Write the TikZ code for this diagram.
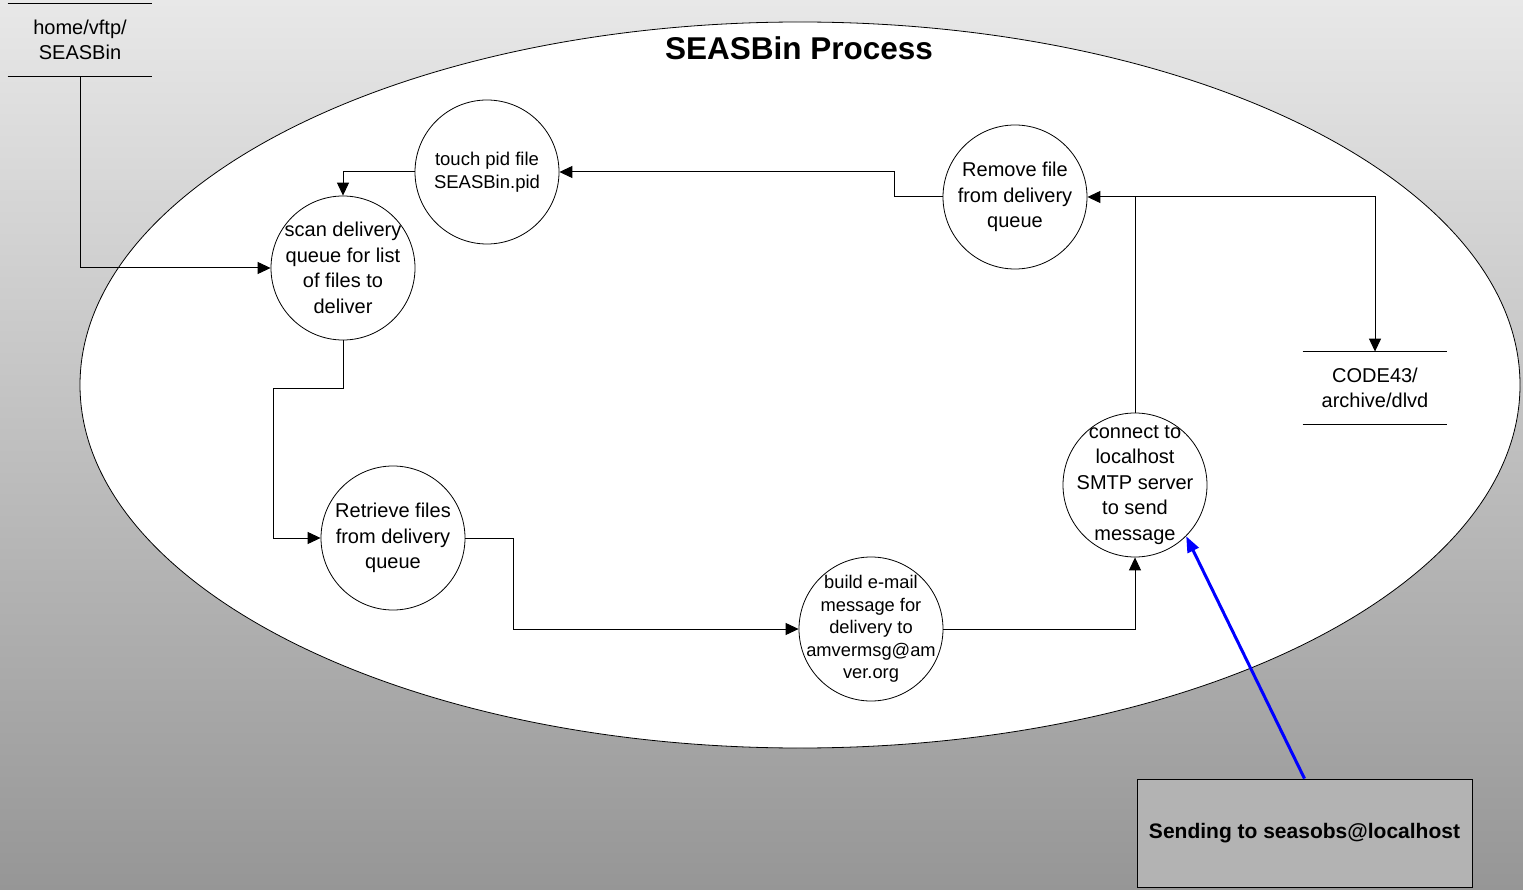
\documentclass[tikz,border=0pt]{standalone}
\usepackage{fontspec}
\setmainfont{Liberation Sans}
\usetikzlibrary{arrows.meta}
\definecolor{bgtop}{RGB}{232,232,232}
\definecolor{bgbot}{RGB}{150,150,150}
\definecolor{notegray}{RGB}{179,179,179}

\begin{document}
\begin{tikzpicture}[x=1pt, y=-1pt, line width=0.8pt,
    proc/.style={draw, circle, fill=white, minimum size=144pt, inner sep=-14pt, align=center, font=\fontsize{20}{25.5}\selectfont},
    store/.style={minimum width=144pt, minimum height=72pt, inner sep=0pt, align=center, font=\fontsize{20}{25}\selectfont},
    flow/.style={-{Triangle[length=13pt,width=12pt]}, line width=1pt}]
    % draw background and process boundary
    \shade[top color=bgtop, bottom color=bgbot] (0,0) rectangle (1523,890);
    \draw[fill=white] (800,385) ellipse [x radius=720pt, y radius=363pt];
    \node (title) at (799,48) {\fontsize{31.5}{34}\selectfont\bfseries SEASBin Process};

    % draw data stores
    \node[store] (vftp) at (80,40) {home/vftp/\\SEASBin};
    \node[store] (arch) at (1375,388) {CODE43/\\archive/dlvd};
    \foreach \s in {vftp,arch}
      \draw (\s.north west) -- (\s.north east) (\s.south west) -- (\s.south east);

    % draw processes
    \node[proc] (scan) at (343,268) {scan delivery\\queue for list\\of files to\\deliver};
    \node[proc, font=\fontsize{18.5}{23}\selectfont] (touch) at (487,172) {touch pid file\\SEASBin.pid};
    \node[proc] (remove) at (1015,197) {Remove file\\from delivery\\queue};
    \node[proc] (retrieve) at (393,538) {Retrieve files\\from delivery\\queue};
    \node[proc, font=\fontsize{18.3}{22.5}\selectfont] (build) at (871,629) {build e-mail\\message for\\delivery to\\amvermsg@am\\ver.org};
    \node[proc] (connect) at (1135,485) {connect to\\localhost\\SMTP server\\to send\\message};

    % draw flows
    \draw[flow] (vftp.south) |- (scan.west);
    \draw[flow] (touch.west) -| (scan.north);
    \draw[flow] (remove.west) -- ++(-48,0) |- (touch.east);
    \draw[flow] (scan.south) -- ++(0,48) -- ++(-70,0) |- (retrieve.west);
    \draw[flow] (retrieve.east) -- ++(48,0) |- (build.west);
    \draw[flow] (build.east) -| (connect.south);
    \draw[flow] (connect.north) |- (remove.east);
    \draw[flow] (connect.north) -- (connect.north |- remove.east) -| (arch.north);

    % draw note
    \node[draw, fill=notegray, minimum width=335pt, minimum height=108pt, font=\bfseries\fontsize{21}{24}\selectfont] (note) at (1304.5,833) {Sending to seasobs@localhost};
    \draw[blue, line width=3pt, -{Triangle[length=16pt,width=12pt]}] (note.north) -- (connect.-45);
\end{tikzpicture}
\end{document}
